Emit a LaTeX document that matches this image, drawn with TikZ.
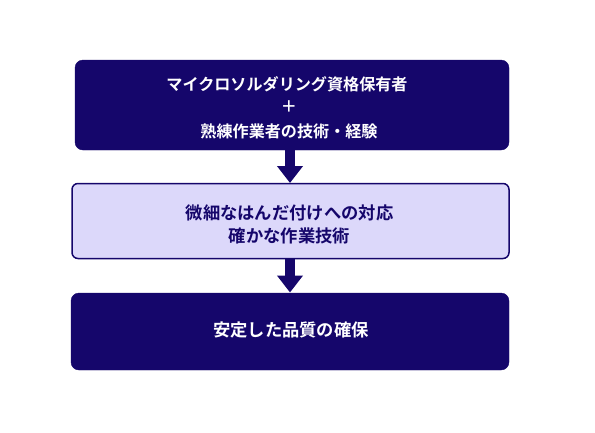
\documentclass[tikz,border=0pt]{standalone}
\usepackage{fontspec}
\newfontfamily\cjk{Noto Sans CJK JP}[BoldFont={Noto Sans CJK JP Bold}]
\usetikzlibrary{arrows.meta}
\definecolor{navy}{HTML}{15066B}
\definecolor{lav}{HTML}{DCD8FA}
\tikzset{
  x=1pt,y=-1pt,
  darkbox/.style={fill=navy,draw=navy,rounded corners=8pt,text=white},
  lightbox/.style={fill=lav,draw=navy,line width=1.5pt,rounded corners=6pt,text=navy},
  lbl/.style={font=\cjk\bfseries\fontsize{16.1}{23.5}\selectfont,align=center,inner sep=0pt},
  lblbig/.style={font=\cjk\bfseries\fontsize{17.3}{23.5}\selectfont,align=center,inner sep=0pt},
  flow/.style={draw=navy,line width=10pt,-{Triangle[width=25pt,length=17pt]}}
}
\begin{document}
\begin{tikzpicture}
\useasboundingbox (0,0) rectangle (595,432);
\filldraw[darkbox] (75,60) rectangle (509,150);
\filldraw[lightbox] (72,183.5) rectangle (509,258.5);
\filldraw[darkbox] (71,293) rectangle (509,370);
\node[lbl,text=white] (t1) at (287,84) {マイクロソルダリング資格保有者};
\node[lbl,text=white] (t2) at (289,107) {＋};
\node[lbl,text=white] (t3) at (289,131) {熟練作業者の技術・経験};
\node[lblbig,text=navy] (t4) at (289.5,213) {微細なはんだ付けへの対応};
\node[lblbig,text=navy] (t5) at (289.5,236) {確かな作業技術};
\node[lblbig,text=white] (t6) at (291,330) {安定した品質の確保};
\coordinate (a1s) at (290,150);
\coordinate (a1e) at (290,183);
\coordinate (a2s) at (290,259);
\coordinate (a2e) at (290,292.5);
\draw[flow] (a1s) -- (a1e);
\draw[flow] (a2s) -- (a2e);
\end{tikzpicture}
\end{document}
